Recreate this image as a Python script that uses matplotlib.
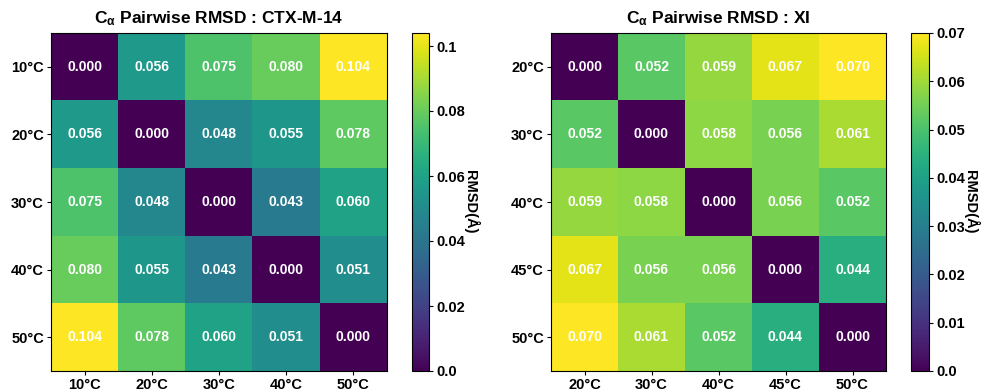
import numpy as np
import matplotlib.pyplot as plt

plt.rcParams['font.family'] = ['Liberation Sans', 'DejaVu Sans']
plt.rcParams['font.weight'] = 'bold'
plt.rcParams['mathtext.fontset'] = 'custom'
plt.rcParams['mathtext.bf'] = 'Liberation Sans:bold'
plt.rcParams['mathtext.rm'] = 'Liberation Sans'

# CTX-M-14
temps_ctx = ['10°C', '20°C', '30°C', '40°C', '50°C']
rmsd_ctx = np.array([
    [0.000, 0.056, 0.075, 0.080, 0.104],
    [0.056, 0.000, 0.048, 0.055, 0.078],
    [0.075, 0.048, 0.000, 0.043, 0.060],
    [0.080, 0.055, 0.043, 0.000, 0.051],
    [0.104, 0.078, 0.060, 0.051, 0.000],
])
ticks_ctx = [0.0, 0.02, 0.04, 0.06, 0.08, 0.1]

# XI
temps_xi = ['20°C', '30°C', '40°C', '45°C', '50°C']
rmsd_xi = np.array([
    [0.000, 0.052, 0.059, 0.067, 0.070],
    [0.052, 0.000, 0.058, 0.056, 0.061],
    [0.059, 0.058, 0.000, 0.056, 0.052],
    [0.067, 0.056, 0.056, 0.000, 0.044],
    [0.070, 0.061, 0.052, 0.044, 0.000],
])
ticks_xi = [0.0, 0.01, 0.02, 0.03, 0.04, 0.05, 0.06, 0.07]

fig = plt.figure(figsize=(9.84, 3.92), dpi=100)

def panel(ax_rect, cb_rect, data, labels, name, ticks):
    ax = fig.add_axes(ax_rect)
    cax = fig.add_axes(cb_rect)
    im = ax.imshow(data, cmap='viridis', vmin=0, vmax=data.max(), aspect='auto')
    n = len(labels)
    for i in range(n):
        for j in range(n):
            ax.text(j, i, f'{data[i, j]:.3f}', ha='center', va='center',
                    color='white', fontsize=10, fontweight='bold')
    ax.set_xticks(range(n))
    ax.set_xticklabels(labels, fontsize=10.5, fontweight='bold')
    ax.set_yticks(range(n))
    ax.set_yticklabels(labels, fontsize=10.5, fontweight='bold')
    ax.tick_params(length=3, pad=2)
    ax.set_title(r'$\mathbf{C_{\alpha}}$ Pairwise RMSD : ' + name,
                 fontsize=12.5, fontweight='bold', pad=7)
    cb = fig.colorbar(im, cax=cax)
    cb.set_ticks(ticks)
    cb.set_ticklabels([f'{t:g}' if t != 0 else '0.0' for t in ticks])
    cb.ax.tick_params(length=3, pad=2)
    for t in cb.ax.get_yticklabels():
        t.set_fontweight('bold')
        t.set_fontsize(10.5)
    cb.set_label('RMSD(Å)', rotation=270, labelpad=10, fontsize=10.5, fontweight='bold')
    cb.outline.set_linewidth(0.8)

panel([51/984, 1 - 371/392, 336/984, 338/392], [412/984, 1 - 371/392, 17/984, 338/392],
      rmsd_ctx, temps_ctx, 'CTX-M-14', ticks_ctx)
panel([551/984, 1 - 371/392, 335/984, 338/392], [911/984, 1 - 371/392, 18/984, 338/392],
      rmsd_xi, temps_xi, 'XI', ticks_xi)

fig.savefig('out.png', dpi=100)
